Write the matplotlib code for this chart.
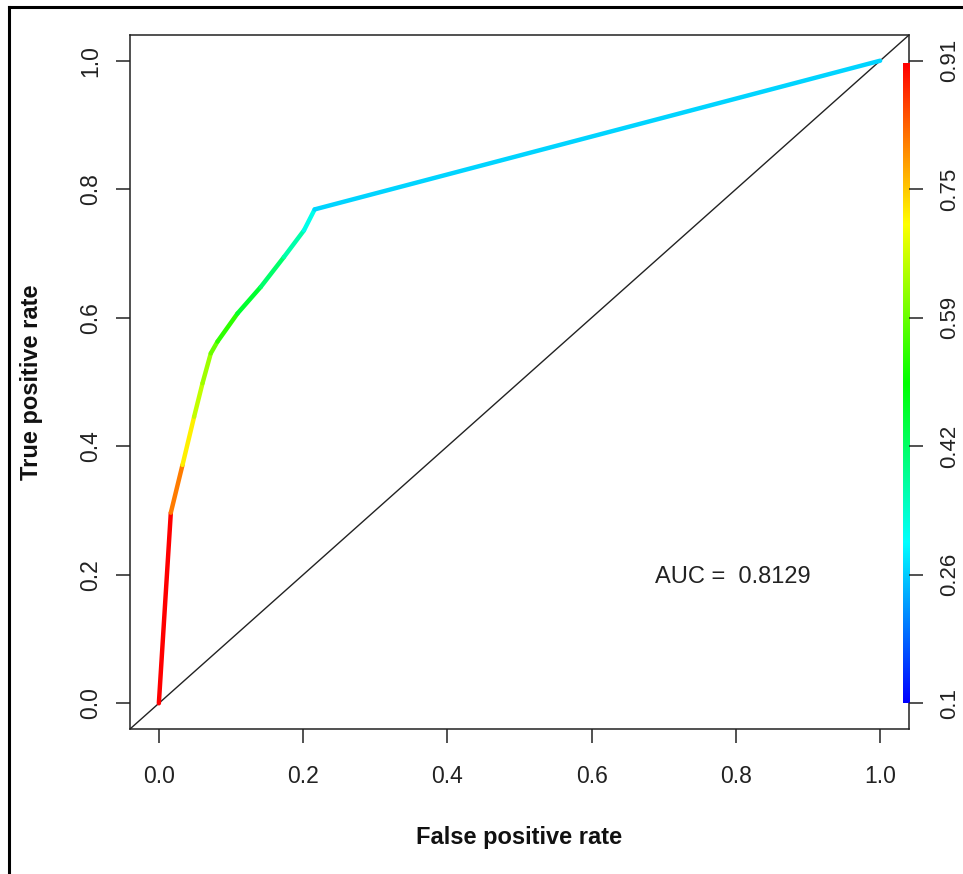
"""Colorized ROC curve with cutoff colour bar (ROCR style)."""

import matplotlib

matplotlib.use("Agg")
import matplotlib.pyplot as plt
import numpy as np
from matplotlib.collections import LineCollection
from matplotlib.colors import ListedColormap, Normalize, hsv_to_rgb
from matplotlib.lines import Line2D

plt.rcParams["font.family"] = ["Liberation Sans", "DejaVu Sans"]

# ROC points
fpr = [0.0, 0.0166, 0.0328, 0.0489, 0.0605, 0.072, 0.0813, 0.109, 0.1413,
       0.1735, 0.2012, 0.216, 1.0]
tpr = [0.0, 0.2966, 0.371, 0.446, 0.498, 0.5446, 0.5629, 0.6066, 0.648,
       0.6946, 0.736, 0.7686, 1.0]
# cutoff that colours each segment (one per segment)
seg_cutoff = [0.91, 0.81, 0.72, 0.66, 0.63, 0.59, 0.54, 0.47, 0.42,
              0.37, 0.32, 0.27]

cb_ticks = [0.0, 0.2, 0.4, 0.6, 0.8, 1.0]
cb_labels = ["0.1", "0.26", "0.42", "0.59", "0.75", "0.91"]
axis_ticks = [0.0, 0.2, 0.4, 0.6, 0.8, 1.0]
axis_labels = ["0.0", "0.2", "0.4", "0.6", "0.8", "1.0"]
auc = 0.8129
cut_min, cut_max = 0.1, 0.91

# R-like rainbow: blue (low cutoff) -> red (high cutoff)
hues = np.linspace(2 / 3, 0, 256)
rainbow = ListedColormap(hsv_to_rgb(np.column_stack([hues, np.ones(256), np.ones(256)])))
norm = Normalize(cut_min, cut_max)

fig = plt.figure(figsize=(9.63, 8.74), dpi=100)
ax = fig.add_axes([130 / 963, 1 - 729 / 874, 779 / 963, 694 / 874])
ax.set_xlim(-0.04, 1.04)
ax.set_ylim(-0.04, 1.04)

# diagonal reference
ax.axline((0, 0), (1, 1), color="#222222", linewidth=1.0, zorder=2)

pts = np.column_stack([fpr, tpr])
segs = np.stack([pts[:-1], pts[1:]], axis=1)
lc = LineCollection(segs, colors=rainbow(norm(seg_cutoff)), linewidths=3.2,
                    capstyle="round", joinstyle="round", zorder=3)
ax.add_collection(lc)

# colour bar drawn inside the plot, on the right edge
grad = np.linspace(0, 1, 256).reshape(-1, 1)
ax.imshow(grad, cmap=rainbow, origin="lower", aspect="auto",
          extent=[1.031, 1.040, 0.0, 0.995], zorder=4)

ax.text(0.688, 0.196, f"AUC =  {auc}", fontsize=17, ha="left", va="center",
        color="#222222")

ax.set_xticks(axis_ticks)
ax.set_xticklabels(axis_labels)
ax.set_yticks(axis_ticks)
ax.set_yticklabels(axis_labels, rotation=90, va="center")
ax.tick_params(axis="both", labelsize=16.5, length=10, width=1.1,
               colors="#222222")
ax.tick_params(axis="x", pad=16)
ax.tick_params(axis="y", pad=10)
for sp in ax.spines.values():
    sp.set_linewidth(1.1)
    sp.set_color("#222222")

rax = ax.twinx()
rax.set_ylim(ax.get_ylim())
rax.set_yticks(cb_ticks)
rax.set_yticklabels(cb_labels, rotation=90, va="center")
rax.tick_params(axis="y", labelsize=16, length=10, width=1.1, pad=12,
                colors="#222222")
for sp in rax.spines.values():
    sp.set_visible(False)

ax.set_xlabel("False positive rate", fontsize=17, fontweight="bold", labelpad=27)
ax.set_ylabel("True positive rate", fontsize=17, fontweight="bold", labelpad=26)
ax.xaxis.label.set_color("#111111")
ax.yaxis.label.set_color("#111111")

# outer frame of the screenshot (left and top edges)
fig.add_artist(Line2D([9 / 963, 9 / 963], [0, 1 - 7 / 874], color="k",
                      linewidth=2.2, transform=fig.transFigure))
fig.add_artist(Line2D([9 / 963, 1], [1 - 7 / 874, 1 - 7 / 874], color="k",
                      linewidth=2.2, transform=fig.transFigure))

fig.savefig("out.png", dpi=100)
